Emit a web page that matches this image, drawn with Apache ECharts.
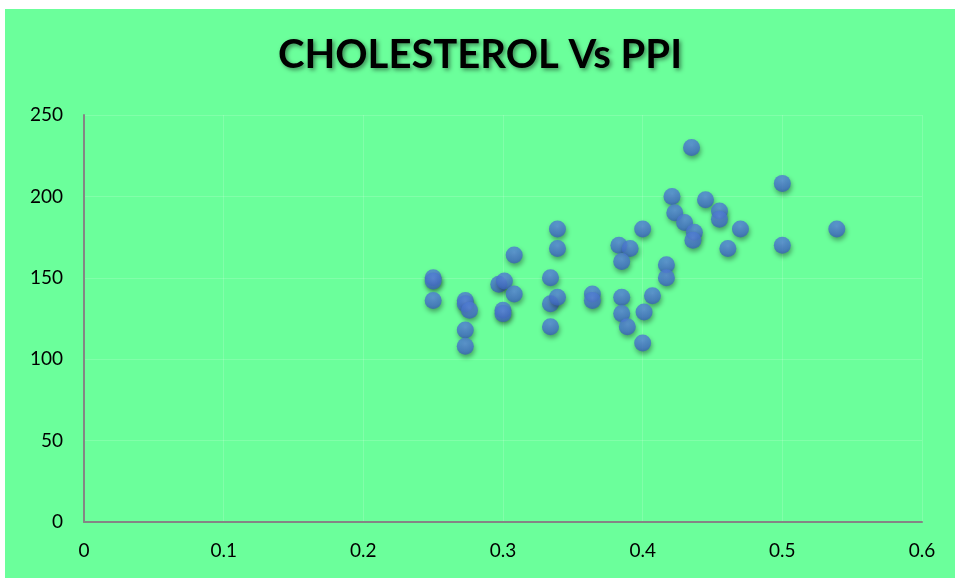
<!DOCTYPE html>
<html>
<head>
<meta charset="utf-8">
<script src="https://cdn.jsdelivr.net/npm/echarts@6/dist/echarts.min.js"></script>
<style>
html,body{margin:0;padding:0;background:#fff;}
#c{position:absolute;left:5px;top:9px;width:950px;height:569px;}
</style>
</head>
<body>
<div id="c"></div>
<script>
const titleText = "CHOLESTEROL Vs PPI";
const ppi = [0.25,0.25,0.25,0.273,0.273,0.276,0.273,0.273,0.308,0.297,0.301,0.308,0.3,0.3,0.339,0.339,0.334,0.334,0.339,0.334,0.364,0.364,0.383,0.391,0.385,0.385,0.385,0.389,0.435,0.5,0.421,0.445,0.423,0.43,0.455,0.455,0.437,0.436,0.47,0.4,0.461,0.5,0.539,0.417,0.417,0.407,0.401,0.4];
const cholesterol = [150,148,136,136,134,130,118,108,164,146,148,140,130,128,180,168,150,134,138,120,140,136,170,168,160,138,128,120,230,208,200,198,190,184,191,186,178,173,180,180,168,170,180,158,150,139,129,110];
const xTicks = {min:0,max:0.6,interval:0.1};
const yTicks = {min:0,max:250,interval:50};

const data = ppi.map((x,i)=>[x,cholesterol[i]]);
const chart = echarts.init(document.getElementById('c'));
const font = 'Lato, "Open Sans", sans-serif';
chart.setOption({
  backgroundColor:'#6bff9b',
  animation:false,
  title:{
    text:titleText,left:'center',top:21,
    textStyle:{fontFamily:font,fontWeight:'bold',fontSize:40,color:'#000',
      textShadowColor:'rgba(0,0,0,0.45)',textShadowBlur:4,textShadowOffsetX:2,textShadowOffsetY:2}
  },
  grid:{left:79,right:33,top:106,bottom:56,containLabel:false},
  xAxis:{type:'value',min:xTicks.min,max:xTicks.max,interval:xTicks.interval,
    axisLine:{show:true,onZero:false,lineStyle:{color:'#858585',width:2}},
    axisTick:{show:false},
    axisLabel:{color:'#000',fontSize:19,fontFamily:font,margin:19},
    splitLine:{show:true,lineStyle:{color:'rgba(255,255,255,0.15)',width:1}}},
  yAxis:{type:'value',min:yTicks.min,max:yTicks.max,interval:yTicks.interval,
    axisLine:{show:true,onZero:false,lineStyle:{color:'#858585',width:2}},
    axisTick:{show:false},
    axisLabel:{color:'#000',fontSize:19,fontFamily:font,margin:21},
    splitLine:{show:true,lineStyle:{color:'rgba(255,255,255,0.15)',width:1}}},
  series:[{
    type:'scatter',data:data,symbol:'circle',symbolSize:17,
    itemStyle:{
      color:new echarts.graphic.RadialGradient(0.5,0.35,0.65,[
        {offset:0,color:'#5e8ce0'},{offset:0.7,color:'#4673cc'},{offset:1,color:'#3862b4'}]),
      shadowColor:'rgba(0,0,0,0.45)',shadowBlur:5,shadowOffsetX:1,shadowOffsetY:3
    }
  }]
});
</script>
</body>
</html>
